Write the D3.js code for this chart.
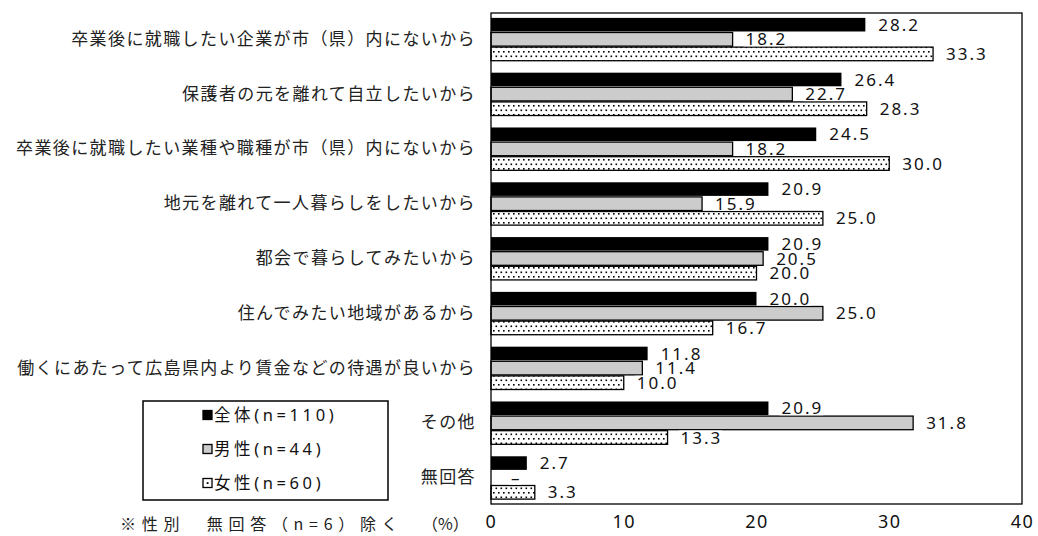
<!DOCTYPE html>
<html><head><meta charset="utf-8">
<script src="https://cdn.jsdelivr.net/npm/d3@7"></script>
<style>
html,body{margin:0;padding:0;background:#fff;}
svg{display:block;}
</style></head>
<body>
<svg id="chart" width="1038" height="536"></svg>
<script>
const categories = [
  "卒業後に就職したい企業が市（県）内にないから",
  "保護者の元を離れて自立したいから",
  "卒業後に就職したい業種や職種が市（県）内にないから",
  "地元を離れて一人暮らしをしたいから",
  "都会で暮らしてみたいから",
  "住んでみたい地域があるから",
  "働くにあたって広島県内より賃金などの待遇が良いから",
  "その他",
  "無回答"
];
const seriesNames = ["全体(n=110)", "男性(n=44)", "女性(n=60)"];
const totalValues  = [28.2, 26.4, 24.5, 20.9, 20.9, 20.0, 11.8, 20.9, 2.7];
const maleValues   = [18.2, 22.7, 18.2, 15.9, 20.5, 25.0, 11.4, 31.8, null];
const femaleValues = [33.3, 28.3, 30.0, 25.0, 20.0, 16.7, 10.0, 13.3, 3.3];
const xTicks = [0, 10, 20, 30, 40];
const footnote = "※性別　無回答（n=6）除く";
const unitLabel = "（%）";

const svg = d3.select("#chart");
const JP = "'Noto Sans CJK JP', sans-serif";
const NUM = "'Noto Sans', 'DejaVu Sans', sans-serif";
const MIX = "'Noto Sans', 'Noto Sans CJK JP', sans-serif";

// pattern for 女性
const defs = svg.append("defs");
const pat = defs.append("pattern").attr("id","dots").attr("patternUnits","userSpaceOnUse")
  .attr("width",5).attr("height",9).attr("x",0).attr("y",0);
pat.append("rect").attr("width",5).attr("height",9).attr("fill","#fff");
pat.append("rect").attr("x",0.5).attr("y",1.5).attr("width",1.6).attr("height",1.6).attr("fill","#000");
pat.append("rect").attr("x",3).attr("y",6).attr("width",1.6).attr("height",1.6).attr("fill","#000");

const x = d3.scaleLinear().domain([0, 40]).range([491, 1022]);
const y = d3.scaleBand().domain(categories).range([13, 504]).paddingInner(0.2).paddingOuter(0.08);
const ySub = d3.scaleBand().domain([0,1,2]).range([0, y.bandwidth()]).padding(0);

const series = [
  {name: seriesNames[0], values: totalValues, fill: "#000", stroke: "none"},
  {name: seriesNames[1], values: maleValues, fill: "#cccccc", stroke: "#000"},
  {name: seriesNames[2], values: femaleValues, fill: "url(#dots)", stroke: "#000"}
];

// bars
series.forEach((s, si) => {
  svg.append("g").selectAll("rect").data(categories.map((c,i)=>({c, v:s.values[i]})).filter(d=>d.v!=null))
    .join("rect")
    .attr("x", x(0))
    .attr("y", d => y(d.c) + ySub(si) + 0.5)
    .attr("width", d => x(d.v) - x(0))
    .attr("height", ySub.bandwidth() - 1)
    .attr("fill", s.fill)
    .attr("stroke", s.stroke)
    .attr("stroke-width", 1.3);
});

// frame
svg.append("rect").attr("x", x(0)).attr("y", 13).attr("width", x(40)-x(0)).attr("height", 504-13)
  .attr("fill","none").attr("stroke","#000").attr("stroke-width",1.3);

// value labels
const labelG = svg.append("g");
series.forEach((s, si) => {
  categories.forEach((c, i) => {
    const v = s.values[i];
    const txt = v == null ? "–" : v.toFixed(1);
    const xv = x(v == null ? 0 : v) + (v == null ? 20 : 13);
    const yc = y(c) + ySub(si) + ySub.bandwidth()/2;
    const g = labelG.append("g");
    const t = g.append("text").attr("x", xv).attr("y", yc).attr("dy","0.36em")
      .attr("font-family", NUM).attr("font-size", 17).attr("letter-spacing", "2px")
      .attr("fill","#111").text(txt);
    const bb = t.node().getBBox();
    g.insert("rect","text").attr("x", bb.x-2).attr("y", yc-7).attr("width", bb.width+2).attr("height", 14).attr("fill","#fff");
  });
});

// axes
const xAxis = svg.append("g").attr("transform", "translate(0,504)")
  .call(d3.axisBottom(x).tickValues(xTicks).tickSize(0).tickPadding(11).tickFormat(d3.format("d")));
xAxis.select(".domain").remove();
xAxis.selectAll("text").attr("font-family", NUM).attr("font-size", 18).attr("letter-spacing","1.5px").attr("fill","#111");

const yAxis = svg.append("g").attr("transform", `translate(${x(0)},0)`)
  .call(d3.axisLeft(y).tickSize(0).tickPadding(15));
yAxis.select(".domain").remove();
yAxis.selectAll("text").attr("font-family", JP).attr("font-size", 17).attr("letter-spacing","1.4px").attr("fill","#222");

// legend
const lg = svg.append("g");
lg.append("rect").attr("x",143).attr("y",401).attr("width",245).attr("height",99)
  .attr("fill","#fff").attr("stroke","#000").attr("stroke-width",1.5);
const legY = [415, 449, 483];
series.forEach((s, si) => {
  const yy = legY[si];
  lg.append("rect").attr("x", 203).attr("y", yy-4.5).attr("width", 9).attr("height", 9)
    .attr("fill", si===0 ? "#000" : (si===1 ? "#cccccc" : "#fff"))
    .attr("stroke","#000").attr("stroke-width",1.3);
  if (si===2) lg.append("rect").attr("x",206.7).attr("y",yy-0.8).attr("width",1.8).attr("height",1.8).attr("fill","#000");
  lg.append("text").attr("x", 214).attr("y", yy).attr("dy","0.36em")
    .attr("font-family", MIX).attr("font-size", 16.5).attr("letter-spacing","3.6px").attr("fill","#111").text(s.name);
});

// footnote and unit
svg.append("text").attr("x",120).attr("y",524).attr("dy","0.36em")
  .attr("font-family", JP).attr("font-size", 16).attr("letter-spacing","5.7px").attr("fill","#222").text(footnote);
svg.append("text").attr("x",422).attr("y",524).attr("dy","0.36em")
  .attr("font-family", JP).attr("font-size", 16).attr("fill","#222").text(unitLabel);
</script>
</body></html>
